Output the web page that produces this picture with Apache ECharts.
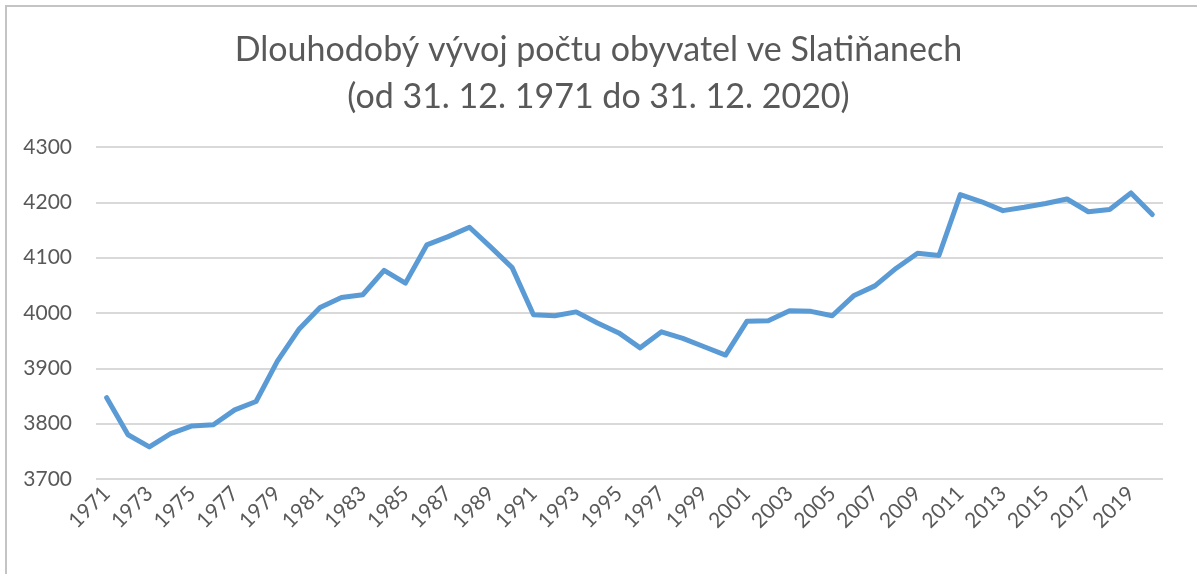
<!DOCTYPE html>
<html>
<head>
<meta charset="utf-8">
<script src="https://cdn.jsdelivr.net/npm/echarts@6/dist/echarts.min.js"></script>
<style>
  html, body { margin: 0; padding: 0; background: #fff; overflow: hidden; }
  .frame {
    position: absolute; left: 5px; top: 5px; width: 1250px; height: 640px;
    border-left: 2px solid #c4c4c4; border-top: 2px solid #c4c4c4;
  }
  #chart { position: absolute; left: 0; top: 0; width: 1197px; height: 574px; }
</style>
</head>
<body>
<div class="frame"></div>
<div id="chart"></div>
<script>
// roky 1971 - 2020
const years = [
  '1971','1972','1973','1974','1975','1976','1977','1978','1979','1980',
  '1981','1982','1983','1984','1985','1986','1987','1988','1989','1990',
  '1991','1992','1993','1994','1995','1996','1997','1998','1999','2000',
  '2001','2002','2003','2004','2005','2006','2007','2008','2009','2010',
  '2011','2012','2013','2014','2015','2016','2017','2018','2019','2020'
]

// počet obyvatel k 31. 12.
const population = [
  3847, 3780, 3758, 3782, 3796, 3798, 3825, 3840, 3913, 3970,
  4010, 4028, 4033, 4077, 4054, 4123, 4138, 4155, 4119, 4082,
  3997, 3995, 4002, 3982, 3964, 3937, 3966, 3954, 3939, 3924,
  3985, 3986, 4004, 4003, 3995, 4031, 4049, 4081, 4108, 4104,
  4214, 4201, 4185, 4191, 4198, 4206, 4183, 4187, 4217, 4178
]

const yTicks = { min: 3700, max: 4300, step: 100 }

const textColor = '#595959'
const font = 'Lato, "Open Sans", sans-serif'

const chart = echarts.init(document.getElementById('chart'))
chart.setOption({
  animation: false,
  title: {
    text: 'Dlouhodobý vývoj počtu obyvatel ve Slatiňanech\n(od 31. 12. 1971 do 31. 12. 2020)',
    left: 'center',
    top: 22,
    textStyle: {
      color: textColor, fontFamily: font, fontSize: 34, fontWeight: 'normal', lineHeight: 47
    }
  },
  grid: { left: 96, right: 34, top: 147, bottom: 95 },
  xAxis: {
    type: 'category',
    data: years,
    boundaryGap: true,
    axisLine: { show: false },
    axisTick: { show: false },
    axisLabel: {
      interval: 1,
      rotate: 45,
      margin: 11,
      color: textColor,
      fontFamily: font,
      fontSize: 21
    }
  },
  yAxis: {
    type: 'value',
    min: yTicks.min,
    max: yTicks.max,
    interval: yTicks.step,
    axisLine: { show: false },
    axisTick: { show: false },
    axisLabel: {
      margin: 24, color: textColor, fontFamily: font, fontSize: 21,
      formatter: v => String(v)
    },
    splitLine: { lineStyle: { color: '#d9d9d9', width: 2 } }
  },
  series: [{
    type: 'line',
    data: population,
    symbol: 'none',
    lineStyle: { color: '#5b9bd5', width: 5, cap: 'round', join: 'round' }
  }]
})
</script>
</body>
</html>
